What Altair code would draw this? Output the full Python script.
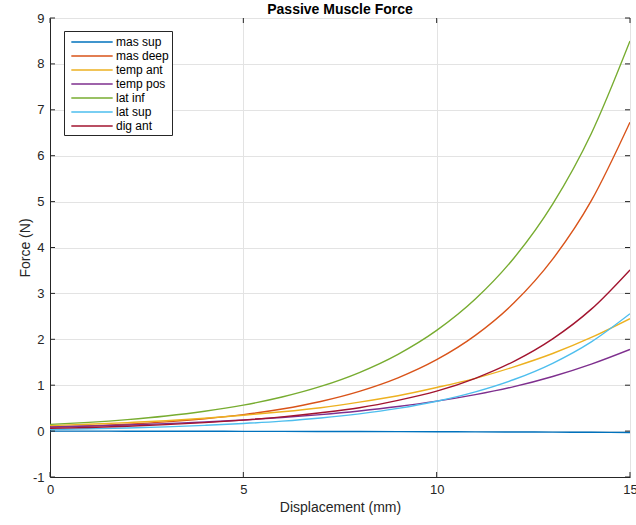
import altair as alt
import pandas as pd

# Displacement samples (mm)
displacement = list(range(16))

# Passive force (N) for each muscle at each displacement sample
mas_sup = [0.0, -0.001, -0.002, -0.003, -0.004, -0.005, -0.007, -0.008,
           -0.010, -0.012, -0.014, -0.016, -0.019, -0.022, -0.026, -0.030]
mas_deep = [0.083, 0.111, 0.149, 0.200, 0.268, 0.359, 0.482, 0.646,
            0.866, 1.160, 1.555, 2.085, 2.794, 3.746, 5.020, 6.730]
temp_ant = [0.120, 0.150, 0.185, 0.225, 0.280, 0.345, 0.420, 0.510,
            0.630, 0.770, 0.950, 1.150, 1.400, 1.690, 2.040, 2.450]
temp_pos = [0.090, 0.110, 0.134, 0.163, 0.199, 0.242, 0.295, 0.360,
            0.439, 0.535, 0.652, 0.795, 0.969, 1.190, 1.460, 1.780]
lat_inf = [0.146, 0.191, 0.251, 0.329, 0.432, 0.566, 0.742, 0.973,
           1.276, 1.673, 2.194, 2.877, 3.772, 4.946, 6.485, 8.500]
lat_sup = [0.035, 0.050, 0.068, 0.092, 0.125, 0.165, 0.217, 0.286,
           0.376, 0.494, 0.650, 0.855, 1.124, 1.478, 1.944, 2.557]
dig_ant = [0.060, 0.080, 0.105, 0.140, 0.185, 0.240, 0.310, 0.400,
           0.510, 0.670, 0.870, 1.150, 1.520, 2.010, 2.657, 3.513]

series_names = ["mas sup", "mas deep", "temp ant", "temp pos",
                "lat inf", "lat sup", "dig ant"]
series_values = [mas_sup, mas_deep, temp_ant, temp_pos, lat_inf, lat_sup, dig_ant]
series_colors = ["#0072BD", "#D95319", "#EDB120", "#7E2F8E",
                 "#77AC30", "#4DBEEE", "#A2142F"]

x_ticks = [0, 5, 10, 15]
y_ticks = [-1, 0, 1, 2, 3, 4, 5, 6, 7, 8, 9]

rows = []
for name, vals in zip(series_names, series_values):
    for x, v in zip(displacement, vals):
        rows.append({"muscle": name, "disp": x, "force": v})
df = pd.DataFrame(rows)

FONT = "Liberation Sans"
BOX = "#262626"
W, H = 580, 459
TICK = 5

x_scale = alt.Scale(domain=[0, 15], nice=False, zero=False)
y_scale = alt.Scale(domain=[-1, 9], nice=False, zero=False)

x_axis = alt.Axis(values=x_ticks, title="Displacement (mm)", grid=True,
                  ticks=False, tickSize=0, labelPadding=6, titlePadding=4,
                  labelFontSize=13, titleFontSize=14, titleFontWeight="normal",
                  labelFont=FONT, titleFont=FONT, labelColor=BOX, titleColor=BOX,
                  domainColor=BOX, gridColor="#e3e3e3", labelFlush=False,
                  labelExpr="'' + datum.value")
y_axis = alt.Axis(values=y_ticks, title="Force (N)", grid=True,
                  ticks=False, tickSize=0, labelPadding=6, titlePadding=0,
                  labelFontSize=13, titleFontSize=14, titleFontWeight="normal",
                  labelFont=FONT, titleFont=FONT, labelColor=BOX, titleColor=BOX,
                  domainColor=BOX, gridColor="#e3e3e3", labelFlush=False,
                  labelExpr="'' + datum.value")

# Short-line legend symbol: a wide horizontal stroke on a small layout footprint
legend = alt.Legend(orient="none", legendX=14, legendY=13, title=None,
                    symbolType="M-3,0H3", symbolSize=190, symbolStrokeWidth=1.5,
                    symbolOffset=17,
                    labelFontSize=12, labelFont=FONT, labelColor="#000000",
                    strokeColor=BOX, fillColor="white", padding=3,
                    labelOffset=16, rowPadding=0)

lines = alt.Chart(df).mark_line(strokeWidth=1.4, clip=True,
                                interpolate="monotone").encode(
    x=alt.X("disp:Q", scale=x_scale, axis=x_axis),
    y=alt.Y("force:Q", scale=y_scale, axis=y_axis),
    color=alt.Color("muscle:N", sort=series_names,
                    scale=alt.Scale(domain=series_names, range=series_colors),
                    legend=legend),
    order=alt.Order("disp:Q"),
)

# Inward tick marks on all four sides of the box
xt = pd.DataFrame({"disp": x_ticks})
yt = pd.DataFrame({"force": y_ticks})
tick_bottom = alt.Chart(xt).mark_rule(color=BOX, strokeWidth=1).encode(
    x=alt.X("disp:Q", scale=x_scale), y=alt.value(H), y2=alt.value(H - TICK))
tick_top = alt.Chart(xt).mark_rule(color=BOX, strokeWidth=1).encode(
    x=alt.X("disp:Q", scale=x_scale), y=alt.value(0), y2=alt.value(TICK))
tick_left = alt.Chart(yt).mark_rule(color=BOX, strokeWidth=1).encode(
    y=alt.Y("force:Q", scale=y_scale), x=alt.value(0), x2=alt.value(TICK))
tick_right = alt.Chart(yt).mark_rule(color=BOX, strokeWidth=1).encode(
    y=alt.Y("force:Q", scale=y_scale), x=alt.value(W), x2=alt.value(W - TICK))

chart = alt.layer(lines, tick_bottom, tick_top, tick_left, tick_right).properties(
    width=W, height=H,
    title=alt.TitleParams("Passive Muscle Force", font=FONT, fontSize=14,
                          fontWeight="bold", color="#000000", offset=4, dy=9,
                          anchor="middle", frame="group"),
    autosize=alt.AutoSizeParams(type="none"),
    padding={"left": 50, "top": 18, "right": 6, "bottom": 48},
).configure_view(stroke=BOX, strokeWidth=1).configure(background="white")

chart.save("out.html", embed_options={"renderer": "svg", "actions": False})
